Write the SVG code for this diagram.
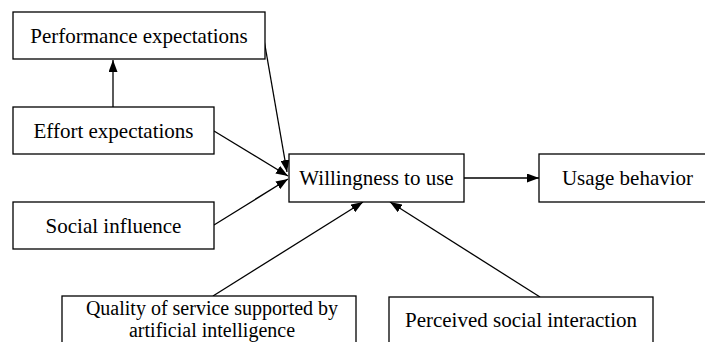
<svg xmlns="http://www.w3.org/2000/svg" width="705" height="342" viewBox="0 0 705 342">
<style>
.box{fill:#fff;stroke:#000;stroke-width:1.3}
.t{font-family:"Liberation Serif","Times New Roman",serif;font-size:21px;fill:#000;text-anchor:middle}
.s{font-size:20px}
.c{stroke:#000;stroke-width:1.3;fill:none;marker-end:url(#ah)}
</style>
<defs>
<marker id="ah" viewBox="0 0 12 9" refX="12" refY="4.5" markerWidth="12" markerHeight="9" markerUnits="userSpaceOnUse" orient="auto">
<path d="M0,0 L12,4.5 L0,9 z" fill="#000"/>
</marker>
</defs>
<rect width="705" height="342" fill="#fff"/>
<g id="connectors">
<line class="c" x1="113" y1="107" x2="113" y2="60"/>
<line class="c" x1="263" y1="34" x2="287" y2="172"/>
<line class="c" x1="214" y1="131" x2="288" y2="176"/>
<line class="c" x1="214" y1="225" x2="288" y2="179"/>
<line class="c" x1="213" y1="296" x2="363" y2="202"/>
<line class="c" x1="540" y1="297" x2="390" y2="202"/>
<line class="c" x1="464" y1="178" x2="539" y2="178"/>
</g>
<g id="performance">
<rect class="box" x="13" y="12" width="252" height="47"/>
<text class="t" x="139" y="43">Performance expectations</text>
</g>
<g id="effort">
<rect class="box" x="13" y="107" width="201" height="47"/>
<text class="t" x="113.5" y="138">Effort expectations</text>
</g>
<g id="social">
<rect class="box" x="13" y="202" width="201" height="47"/>
<text class="t" x="113.5" y="233">Social influence</text>
</g>
<g id="willingness">
<rect class="box" x="289" y="154" width="175" height="48"/>
<text class="t" x="376.5" y="185">Willingness to use</text>
</g>
<g id="usage">
<rect class="box" x="539" y="154" width="177" height="48"/>
<text class="t" x="627.5" y="185">Usage behavior</text>
</g>
<g id="quality">
<rect class="box" x="62" y="296" width="294" height="60"/>
<text class="t s" x="212" y="315">Quality of service supported by</text>
<text class="t s" x="212" y="337">artificial intelligence</text>
</g>
<g id="perceived">
<rect class="box" x="389" y="297" width="264" height="60"/>
<text class="t" x="521" y="327">Perceived social interaction</text>
</g>
</svg>
